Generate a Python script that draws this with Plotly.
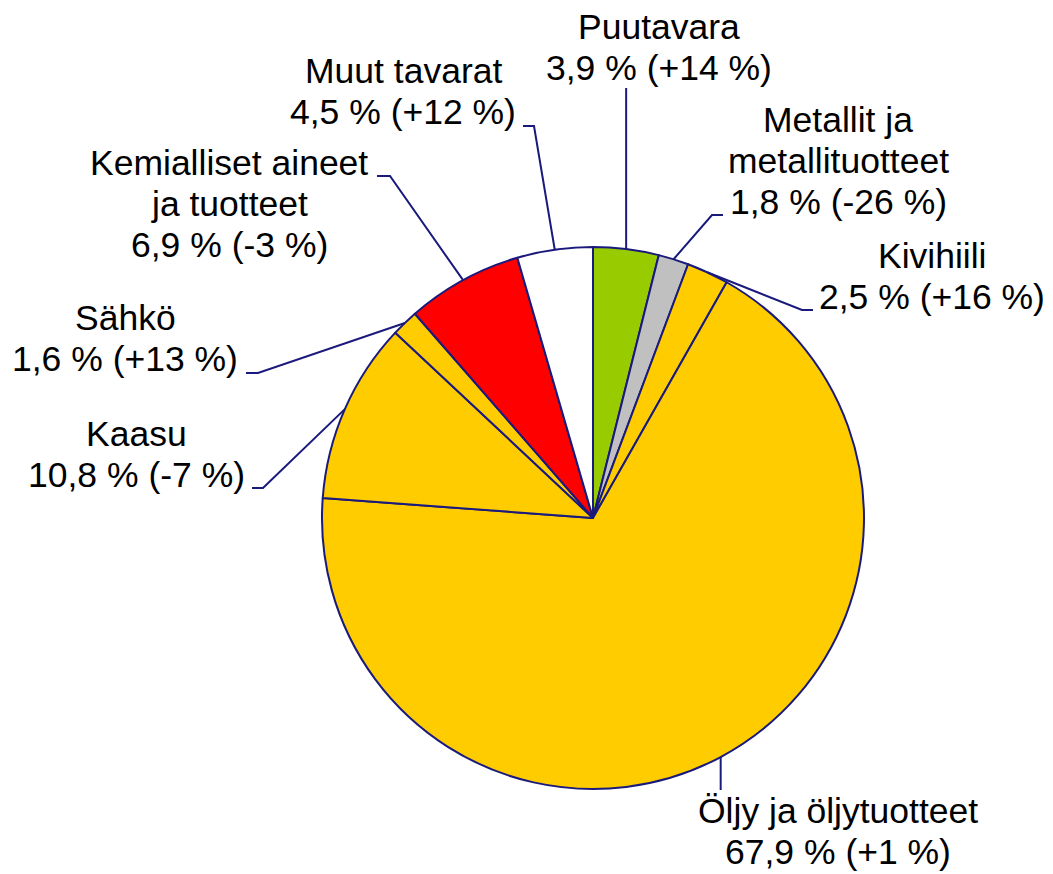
import math
import plotly.graph_objects as go

# Share of transported goods by commodity group, with annual change
categories = [
    "Puutavara",
    "Metallit ja metallituotteet",
    "Kivihiili",
    "Öljy ja öljytuotteet",
    "Kaasu",
    "Sähkö",
    "Kemialliset aineet ja tuotteet",
    "Muut tavarat",
]
shares = [3.9, 1.8, 2.5, 67.9, 10.8, 1.6, 6.9, 4.5]
changes = ["+14", "-26", "+16", "+1", "-7", "+13", "-3", "+12"]
name_lines = [
    ["Puutavara"],
    ["Metallit ja", "metallituotteet"],
    ["Kivihiili"],
    ["Öljy ja öljytuotteet"],
    ["Kaasu"],
    ["Sähkö"],
    ["Kemialliset aineet", "ja tuotteet"],
    ["Muut tavarat"],
]
colors = ["#99CC00", "#C0C0C0", "#FFCC00", "#FFCC00", "#FFCC00", "#FFCC00", "#FF0000", "#FFFFFF"]

W, H = 1053, 874
CX, CY, R = 593, 518, 271
NAVY = "#1A1A7C"
FONT = dict(family="Arial, Liberation Sans, sans-serif", size=35.5, color="#000000")
LINE_GAP = 41

# label placement (pixels): text centre x, first line centre y, leader elbow & end
placement = [
    dict(cx=659, y0=27, elbow=None, end_y=88),
    dict(cx=838, y0=120, elbow=(712, 215), end=(723, 215)),
    dict(cx=932, y0=256, elbow=(802, 310), end=(813, 310)),
    dict(cx=838, y0=811, elbow=None, end_y=790),
    dict(cx=136, y0=434, elbow=(263, 488), end=(252, 488)),
    dict(cx=125, y0=318, elbow=(258, 373), end=(246, 373)),
    dict(cx=229, y0=163, elbow=(390, 176), end=(377, 176)),
    dict(cx=403, y0=71, elbow=(534, 126), end=(523, 126)),
]


def px(x, y):
    return x / W, 1 - y / H


fig = go.Figure(
    go.Pie(
        labels=categories,
        values=shares,
        sort=False,
        direction="clockwise",
        rotation=0,
        marker=dict(colors=colors, line=dict(color=NAVY, width=2)),
        textinfo="none",
        hoverinfo="label+percent",
        domain=dict(
            x=[(CX - R) / W, (CX + R) / W],
            y=[1 - (CY + R) / H, 1 - (CY - R) / H],
        ),
    )
)

total = sum(shares)
cum = 0.0
shapes = []
annotations = []
for share, chg, names, p in zip(shares, changes, name_lines, placement):
    mid = (cum + share / 2) / total * 2 * math.pi
    cum += share
    sx = CX + R * math.sin(mid)
    sy = CY - R * math.cos(mid)
    if p["elbow"] is None:
        pts = [(sx, sy), (sx, p["end_y"])]
    else:
        pts = [(sx, sy), p["elbow"], p["end"]]
    path = "M " + " L ".join(
        f"{px(x, y)[0]:.5f},{px(x, y)[1]:.5f}" for x, y in pts
    )
    shapes.append(
        dict(type="path", xref="paper", yref="paper", path=path,
             line=dict(color=NAVY, width=2))
    )
    value_text = f"{share:.1f}".replace(".", ",") + f" % ({chg} %)"
    for i, t in enumerate(names + [value_text]):
        ax, ay = px(p["cx"], p["y0"] + i * LINE_GAP)
        annotations.append(
            dict(text=t, x=ax, y=ay, xref="paper", yref="paper",
                 xanchor="center", yanchor="middle", showarrow=False, font=FONT)
        )

fig.update_layout(
    width=W,
    height=H,
    margin=dict(l=0, r=0, t=0, b=0),
    paper_bgcolor="#FFFFFF",
    plot_bgcolor="#FFFFFF",
    showlegend=False,
    shapes=shapes,
    annotations=annotations,
)

fig.write_html("out.html")
